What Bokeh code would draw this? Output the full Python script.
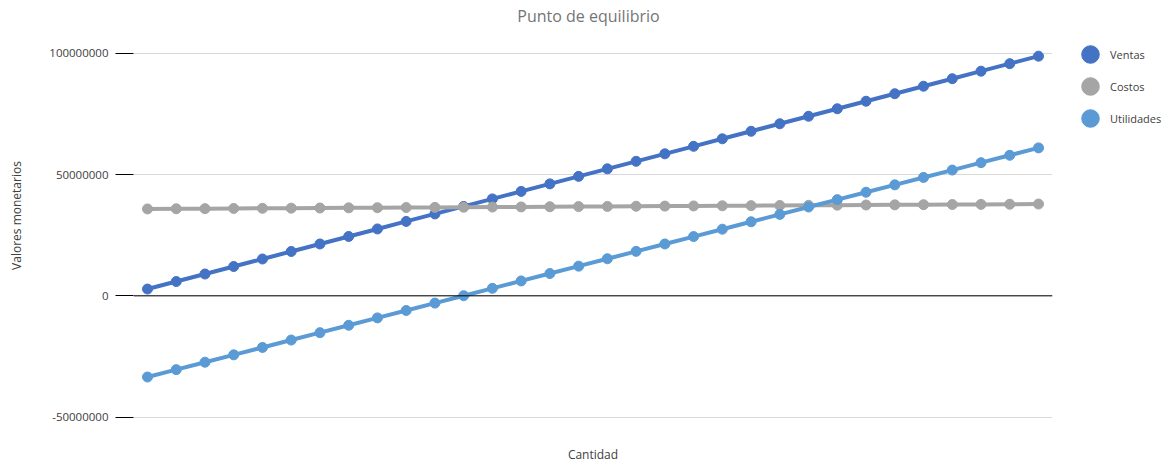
from bokeh.plotting import figure
from bokeh.models import (Range1d, FixedTicker, NumeralTickFormatter, Span,
                          Legend, LegendItem, ColumnDataSource, Label)
from bokeh.embed import file_html
from bokeh.resources import INLINE

# ---- data (values in millions) ----
cantidad = list(range(1, 33))
ventas_m = [2.8, 5.9, 9.0, 12.1, 15.2, 18.3, 21.4, 24.5, 27.6, 30.7, 33.8, 36.9,
            40.0, 43.1, 46.2, 49.3, 52.4, 55.5, 58.6, 61.7, 64.8, 67.9, 71.0, 74.1,
            77.2, 80.3, 83.4, 86.5, 89.6, 92.7, 95.8, 98.9]
costos_m = [35.85, 35.92, 35.98, 36.05, 36.11, 36.18, 36.24, 36.31, 36.37, 36.44,
            36.50, 36.57, 36.63, 36.70, 36.76, 36.83, 36.89, 36.96, 37.02, 37.09,
            37.15, 37.22, 37.28, 37.35, 37.41, 37.48, 37.54, 37.61, 37.67, 37.74,
            37.80, 37.87]
utilidades_m = [-33.50, -30.45, -27.40, -24.35, -21.30, -18.25, -15.20, -12.15,
                -9.10, -6.05, -3.00, 0.05, 3.10, 6.15, 9.20, 12.25, 15.30, 18.35,
                21.40, 24.45, 27.50, 30.55, 33.60, 36.65, 39.70, 42.75, 45.80,
                48.85, 51.90, 54.95, 58.00, 61.05]
y_ticks = [-50000000, 0, 50000000, 100000000]
series_names = ["Ventas", "Costos", "Utilidades"]
series_colors = ["#4472C4", "#A5A5A5", "#5B9BD5"]
title_text = "Punto de equilibrio"

FONT = "Open Sans"
TXT = "#404040"
NAN = float("nan")

src = ColumnDataSource(dict(
    x=cantidad,
    Ventas=[v * 1_000_000 for v in ventas_m],
    Costos=[v * 1_000_000 for v in costos_m],
    Utilidades=[v * 1_000_000 for v in utilidades_m],
))

p = figure(frame_width=919, frame_height=430,
           min_border_left=133, min_border_right=124,
           min_border_top=0, min_border_bottom=40,
           x_range=Range1d(0.513, 32.487),
           y_range=Range1d(-55_570_000, 121_870_000),
           output_backend="svg", toolbar_location=None,
           title=None)
p.outline_line_color = None
p.background_fill_color = "white"
p.border_fill_color = "white"

# title drawn as a screen-positioned label inside the (tall) frame
p.add_layout(Label(x=455, y=415, x_units="screen", y_units="screen",
                   text=title_text, text_align="center", text_baseline="middle",
                   text_font=FONT, text_font_size="16px", text_color="#757575"))

# y axis
ya = p.yaxis[0]
ya.ticker = FixedTicker(ticks=y_ticks)
ya.formatter = NumeralTickFormatter(format="0")
ya.axis_line_color = None
ya.major_tick_in = 0
ya.major_tick_out = 18
ya.major_tick_line_color = "black"
ya.major_tick_line_width = 1
ya.minor_tick_line_color = None
ya.major_label_standoff = 7
ya.major_label_text_font = FONT
ya.major_label_text_font_size = "11.5px"
ya.major_label_text_color = TXT
ya.axis_label = "Valores monetarios"
ya.axis_label_text_font = FONT
ya.axis_label_text_font_size = "12px"
ya.axis_label_text_font_style = "normal"
ya.axis_label_text_color = TXT
ya.axis_label_standoff = 21

# x axis
xa = p.xaxis[0]
xa.ticker = FixedTicker(ticks=[])
xa.axis_line_color = None
xa.major_tick_line_color = None
xa.minor_tick_line_color = None
xa.major_label_text_font_size = "0px"
xa.axis_label = "Cantidad"
xa.axis_label_text_font = FONT
xa.axis_label_text_font_size = "12px"
xa.axis_label_text_font_style = "normal"
xa.axis_label_text_color = TXT
xa.axis_label_standoff = 15

p.xgrid.grid_line_color = None
p.ygrid.ticker = FixedTicker(ticks=y_ticks)
p.ygrid.grid_line_color = "#D9D9D9"
p.ygrid.grid_line_width = 1

zero = Span(location=0, dimension="width", line_color="black", line_width=1)
p.add_layout(zero)

items = []
for name, color in zip(series_names, series_colors):
    p.line("x", name, source=src, line_color=color, line_width=4,
           line_cap="round", line_join="round")
    dots = p.scatter("x", name, source=src, size=10, marker="circle",
                     fill_color=color, line_color=color)
    # legend swatch: an ellipse with no visible position, sized in screen units
    swatch = p.ellipse(x=[NAN], y=[NAN], width=17, height=17,
                       width_units="screen", height_units="screen",
                       fill_color=color, line_color=color)
    items.append(LegendItem(label=name, renderers=[dots, swatch]))

legend = Legend(items=items, location=(27, 296),
                orientation="vertical",
                glyph_width=22, glyph_height=32, spacing=0,
                padding=0, margin=0, label_standoff=9,
                label_height=32,
                label_text_font=FONT, label_text_font_size="11px",
                label_text_color=TXT,
                border_line_color=None, background_fill_alpha=0)
p.add_layout(legend, "right")

open("out.html", "w").write(file_html(p, INLINE))
